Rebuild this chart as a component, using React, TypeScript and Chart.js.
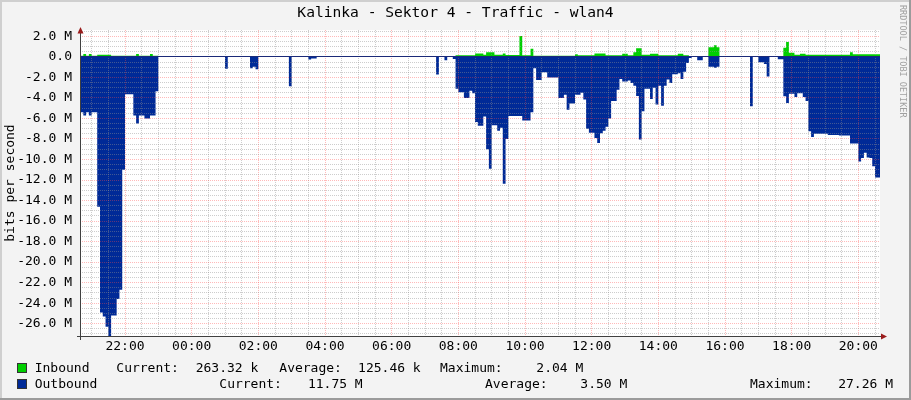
import React, { useEffect, useRef } from 'react';
import { Chart, registerables } from 'chart.js';

Chart.register(...registerables);

const TITLE = 'Kalinka - Sektor 4 - Traffic - wlan4';
const Y_AXIS_TITLE = 'bits per second';
const WATERMARK = 'RRDTOOL / TOBI OETIKER';

// Sample start times, minutes since 00:00 of the first day (value holds until next time)
const outTimes = [
  1235, 1245, 1250, 1255, 1260, 1270, 1275, 1280, 1285, 1290, 1295, 1305, 1310, 1315, 1320,
  1335, 1340, 1345, 1355, 1365, 1375, 1380,
  1500, 1505, 1545, 1550, 1555, 1560, 1615, 1620, 1650, 1655, 1665,
  1880, 1885, 1895, 1900, 1910, 1915, 1920, 1930, 1940, 1945, 1950, 1955, 1965, 1970, 1975,
  1980, 1990, 1995, 2000, 2005, 2010, 2035, 2050, 2055, 2060, 2070, 2080, 2100, 2110, 2115,
  2120, 2130, 2140, 2145, 2150, 2155, 2165, 2170, 2175, 2180, 2185, 2190, 2195, 2205, 2210,
  2215, 2225, 2230, 2235, 2240, 2245, 2250, 2255, 2265, 2270, 2275, 2280, 2285, 2290, 2295,
  2300, 2305, 2315, 2320, 2325, 2330, 2335, 2340, 2350, 2360, 2370, 2380, 2385, 2390,
  2445, 2450, 2460, 2470, 2475, 2480, 2495, 2505, 2510, 2515, 2525, 2530, 2540, 2545, 2550,
  2555, 2560, 2585, 2605, 2625, 2640, 2645, 2650, 2655, 2660, 2665, 2670, 2680,
];
// Outbound traffic, Mbit/s (drawn below zero)
const outValues = [
  5.4, 5.7, 5.4, 5.7, 5.4, 14.6, 24.9, 25.3, 26.3, 27.26, 25.2, 23.6, 22.7, 11.0, 3.65,
  5.7, 6.5, 5.7, 6.0, 5.7, 3.35, 0,
  1.15, 0, 1.1, 0.95, 1.2, 0, 2.86, 0, 0.25, 0.15, 0,
  1.72, 0, 0.33, 0, 0.2, 3.1, 3.45, 4.0, 3.3, 3.55, 6.35, 6.7, 5.8, 9.0, 10.9,
  6.65, 7.2, 6.9, 12.35, 8.0, 5.75, 6.2, 5.4, 1.1, 2.25, 1.5, 2.0, 4.0, 3.7, 5.15,
  4.55, 3.7, 3.5, 4.15, 7.0, 7.4, 7.9, 8.4, 7.45, 7.2, 6.8, 6.0, 4.3, 3.2, 2.15,
  2.4, 2.3, 2.55, 2.8, 3.8, 8.06, 5.3, 3.1, 4.1, 3.0, 4.65, 2.8, 4.75, 2.8, 2.2,
  2.55, 1.7, 1.6, 2.15, 1.45, 0.6, 0.1, 0, 0.33, 0, 0.95, 1.05, 0.95, 0,
  4.8, 0, 0.52, 0.68, 1.9, 0, 0.22, 3.84, 4.5, 3.6, 3.9, 3.55, 3.9, 4.3, 7.25,
  7.8, 7.5, 7.6, 7.65, 8.45, 10.2, 9.85, 9.35, 9.8, 9.85, 10.65, 11.75, 11.75,
];

const inTimes = [
  1235, 1245, 1250, 1255, 1260, 1270, 1295, 1340, 1345, 1365, 1370, 1380,
  1880, 1885, 1915, 1950, 1965, 1970, 1985, 2000, 2005, 2030, 2035, 2050, 2055,
  2130, 2135, 2165, 2185, 2215, 2225, 2235, 2240, 2250, 2265, 2280, 2315, 2325, 2335,
  2370, 2380, 2385, 2390, 2445, 2450, 2460, 2480, 2505, 2510, 2515, 2525, 2535, 2545,
  2625, 2630, 2680,
];
// Inbound traffic, Mbit/s
const inValues = [
  0.12, 0.28, 0.12, 0.28, 0.12, 0.22, 0.12, 0.28, 0.12, 0.28, 0.12, 0,
  0.08, 0, 0.15, 0.32, 0.2, 0.45, 0.2, 0.32, 0.18, 2.04, 0.15, 0.8, 0.12,
  0.25, 0.15, 0.33, 0.15, 0.3, 0.15, 0.45, 0.84, 0.2, 0.3, 0.15, 0.3, 0.15, 0,
  0.94, 1.13, 0.94, 0, 0.1, 0, 0.1, 0, 0.88, 1.46, 0.4, 0.22, 0.3, 0.22,
  0.45, 0.26, 0.26,
];

const X_MIN = 1239;
const X_MAX = 2679;
const Y_MIN = -27.2;
const Y_MAX = 2.62;

const xLabelTimes = [1320, 1440, 1560, 1680, 1800, 1920, 2040, 2160, 2280, 2400, 2520, 2640];
const xTickLabels = ['22:00', '00:00', '02:00', '04:00', '06:00', '08:00', '10:00', '12:00', '14:00', '16:00', '18:00', '20:00'];
const yLabelValues = [2, 0, -2, -4, -6, -8, -10, -12, -14, -16, -18, -20, -22, -24, -26];
const yTickLabels = ['2.0 M', '0.0', '-2.0 M', '-4.0 M', '-6.0 M', '-8.0 M', '-10.0 M', '-12.0 M', '-14.0 M', '-16.0 M', '-18.0 M', '-20.0 M', '-22.0 M', '-24.0 M', '-26.0 M'];

const legendNames = ['Inbound', 'Outbound'];
const legendCurrent = ['263.32 k', '11.75 M'];
const legendAverage = ['125.46 k', '3.50 M'];
const legendMaximum = ['2.04 M', '27.26 M'];

const IN_COLOR = '#00CF00';
const OUT_COLOR = '#002A97';
const FONT = '"DejaVu Sans Mono", monospace';
const MINOR = 'rgba(145,145,145,0.45)';
const MAJOR = 'rgba(255,70,70,0.38)';

const rrdPlugin = {
  id: 'rrdDecor',
  beforeDraw(chart: any) {
    const { ctx, width, height, chartArea: a } = chart;
    ctx.save();
    ctx.fillStyle = '#F3F3F3';
    ctx.fillRect(0, 0, width, height);
    ctx.fillStyle = '#CFCFCF';
    ctx.fillRect(0, 0, width, 2);
    ctx.fillRect(0, 0, 2, height);
    ctx.fillStyle = '#9B9B9B';
    ctx.fillRect(0, height - 2, width, 2);
    ctx.fillRect(width - 2, 0, 2, height);
    ctx.fillStyle = '#FFFFFF';
    ctx.fillRect(a.left, a.top, a.right - a.left, a.bottom - a.top);
    ctx.restore();
  },
  afterDraw(chart: any) {
    const { ctx, chartArea: a, scales } = chart;
    ctx.save();
    // zero line
    const y0 = scales.y.getPixelForValue(0);
    ctx.fillStyle = '#1B2A78';
    ctx.fillRect(a.left, Math.round(y0) - 1, a.right - a.left, 1);
    // axes
    ctx.fillStyle = '#404040';
    ctx.fillRect(a.left, a.top - 2, 1, a.bottom - a.top + 6);
    ctx.fillRect(a.left - 3, a.bottom, a.right - a.left + 7, 1);
    ctx.fillStyle = '#9B1C1C';
    ctx.beginPath();
    ctx.moveTo(a.left + 0.5, a.top - 3);
    ctx.lineTo(a.left - 2.5, a.top + 3.5);
    ctx.lineTo(a.left + 3.5, a.top + 3.5);
    ctx.closePath();
    ctx.fill();
    ctx.beginPath();
    ctx.moveTo(a.right + 7, a.bottom + 0.5);
    ctx.lineTo(a.right + 1, a.bottom - 2.5);
    ctx.lineTo(a.right + 1, a.bottom + 3.5);
    ctx.closePath();
    ctx.fill();

    // legend
    const rowY = [372, 388];
    const colors = [IN_COLOR, OUT_COLOR];
    const curLabelX = [116.3, 219.3];
    const curValueR = [258.3, 362.7];
    const avgLabelX = [279.3, 485];
    const avgValueR = [420.7, 627.3];
    const maxLabelX = [440, 750];
    const maxValueR = [583.3, 893];
    ctx.font = `13px ${FONT}`;
    ctx.textBaseline = 'alphabetic';
    for (let i = 0; i < 2; i++) {
      const y = rowY[i];
      ctx.fillStyle = colors[i];
      ctx.fillRect(18, y - 8, 8, 8);
      ctx.strokeStyle = '#333333';
      ctx.lineWidth = 1;
      ctx.strokeRect(17.5, y - 8.5, 9, 9);
      ctx.fillStyle = '#000000';
      ctx.textAlign = 'left';
      ctx.fillText(legendNames[i], 34.7, y);
      ctx.fillText('Current:', curLabelX[i], y);
      ctx.fillText('Average:', avgLabelX[i], y);
      ctx.fillText('Maximum:', maxLabelX[i], y);
      ctx.textAlign = 'right';
      ctx.fillText(legendCurrent[i], curValueR[i], y);
      ctx.fillText(legendAverage[i], avgValueR[i], y);
      ctx.fillText(legendMaximum[i], maxValueR[i], y);
    }

    // watermark
    ctx.translate(900, 5);
    ctx.rotate(Math.PI / 2);
    ctx.font = `8.5px ${FONT}`;
    ctx.fillStyle = '#A0A0A0';
    ctx.textAlign = 'left';
    ctx.fillText(WATERMARK, 0, 0);
    ctx.restore();
  },
};

export default function App() {
  const ref = useRef<HTMLCanvasElement | null>(null);

  useEffect(() => {
    document.body.style.margin = '0';
    const canvas = ref.current;
    if (!canvas) return;

    const outData = outTimes.map((t, i) => ({ x: t, y: -outValues[i] }));
    const inData = inTimes.map((t, i) => ({ x: t, y: inValues[i] }));

    const chart = new Chart(canvas, {
      type: 'line',
      data: {
        datasets: [
          {
            label: 'Inbound',
            data: inData,
            stepped: true,
            fill: 'origin',
            backgroundColor: IN_COLOR,
            borderColor: 'rgba(0,0,0,0)',
            borderWidth: 0,
            pointRadius: 0,
          },
          {
            label: 'Outbound',
            data: outData,
            stepped: true,
            fill: 'origin',
            backgroundColor: OUT_COLOR,
            borderColor: 'rgba(0,0,0,0)',
            borderWidth: 0,
            pointRadius: 0,
          },
        ],
      },
      options: {
        responsive: false,
        devicePixelRatio: 1,
        animation: false,
        events: [],
        layout: { padding: { left: 0, right: 0, top: 0, bottom: 44 } },
        plugins: {
          legend: { display: false },
          tooltip: { enabled: false },
          title: {
            display: true,
            text: TITLE,
            color: '#000000',
            font: { family: FONT, size: 14.6, weight: 'normal' },
            padding: { top: 4.2, bottom: 8.3 },
          },
        },
        scales: {
          x: {
            type: 'linear',
            min: X_MIN,
            max: X_MAX,
            afterBuildTicks: (scale: any) => {
              const t = [];
              for (let m = 1260; m <= 2670; m += 30) t.push({ value: m });
              scale.ticks = t;
            },
            afterFit: (scale: any) => {
              scale.height = 20;
            },
            grid: {
              z: 1,
              drawTicks: false,
              lineWidth: 1,
              color: (c: any) => (c.tick && c.tick.value % 120 === 0 ? MAJOR : MINOR),
            },
            border: { display: false, dash: [1, 1] },
            ticks: {
              autoSkip: false,
              maxRotation: 0,
              minRotation: 0,
              padding: 3,
              color: '#000000',
              font: { family: FONT, size: 13 },
              callback: (v: any) => {
                const idx = xLabelTimes.indexOf(Number(v));
                return idx >= 0 ? xTickLabels[idx] : '';
              },
            },
          },
          y: {
            type: 'linear',
            min: Y_MIN,
            max: Y_MAX,
            afterBuildTicks: (scale: any) => {
              const t = [];
              for (let k = -54; k <= 5; k++) t.push({ value: k / 2 });
              scale.ticks = t;
            },
            afterFit: (scale: any) => {
              scale.width = 80;
            },
            grid: {
              z: 1,
              drawTicks: false,
              lineWidth: 1,
              color: (c: any) => (c.tick && Math.abs(c.tick.value % 2) < 1e-9 ? MAJOR : MINOR),
            },
            border: { display: false, dash: [1, 1] },
            title: {
              display: true,
              text: Y_AXIS_TITLE,
              color: '#000000',
              font: { family: FONT, size: 13 },
              padding: { top: 3, bottom: 0 },
            },
            ticks: {
              autoSkip: false,
              padding: 8,
              color: '#000000',
              font: { family: FONT, size: 13 },
              callback: (v: any) => {
                const idx = yLabelValues.indexOf(Number(v));
                return idx >= 0 ? yTickLabels[idx] : '';
              },
            },
          },
          yRightMargin: {
            type: 'linear',
            position: 'right',
            display: true,
            min: Y_MIN,
            max: Y_MAX,
            afterFit: (scale: any) => {
              scale.width = 31;
            },
            grid: { display: false, drawTicks: false },
            border: { display: false },
            ticks: { display: false },
          },
        },
      },
      plugins: [rrdPlugin],
    });

    return () => chart.destroy();
  }, []);

  return (
    <div style={{ width: 911, height: 400 }}>
      <canvas ref={ref} width={911} height={400} style={{ display: 'block' }} />
    </div>
  );
}
